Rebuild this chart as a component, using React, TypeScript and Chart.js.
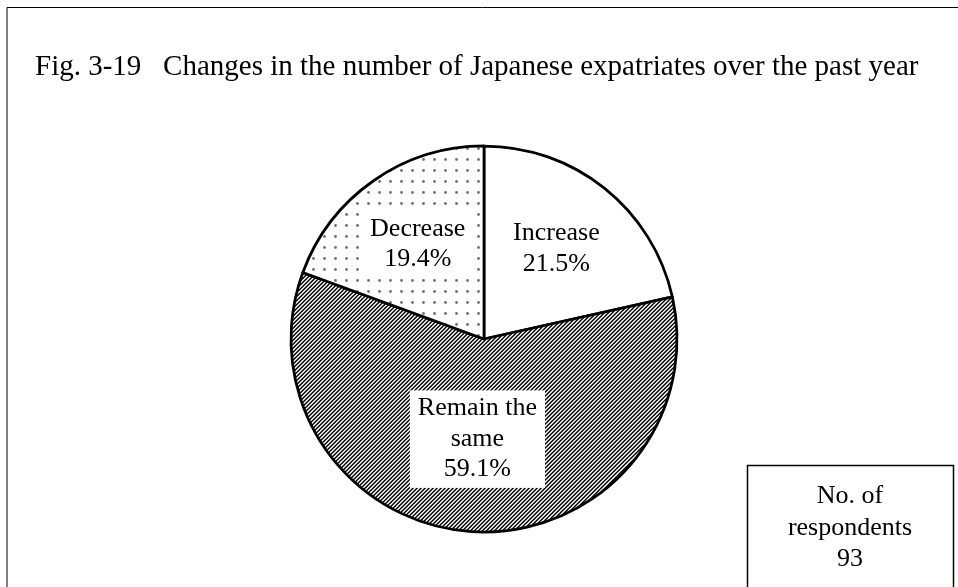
import React, { useEffect, useRef } from "react";
import { Chart, registerables } from "chart.js";

Chart.register(...registerables);

const TITLE = "Fig. 3-19   Changes in the number of Japanese expatriates over the past year";
const categories = ["Increase", "Remain the same", "Decrease"];
const categoryLines = [["Increase"], ["Remain the", "same"], ["Decrease"]];
const values = [21.5, 59.1, 19.4];
const respondents = 93;
const boxLines = ["No. of", "respondents", String(respondents)];

const FONT = '"Liberation Serif", "Times New Roman", serif';
const labelRadius = [0.6, 0.52, 0.6];

function makeHatch(): CanvasPattern | string {
  const c = document.createElement("canvas");
  c.width = 4;
  c.height = 4;
  const g = c.getContext("2d");
  if (!g) return "#888";
  g.fillStyle = "#fff";
  g.fillRect(0, 0, 4, 4);
  for (let x = 0; x < 4; x++) {
    for (let y = 0; y < 4; y++) {
      const k = (x + y) % 4;
      let col = "";
      if (k === 0) col = "#000";
      else if (k === 1) col = "#4a4a4a";
      else if (k === 3) col = "#b0b0b0";
      if (col) {
        g.fillStyle = col;
        g.fillRect(x, y, 1, 1);
      }
    }
  }
  return g.createPattern(c, "repeat") || "#888";
}

function makeDots(): CanvasPattern | string {
  const c = document.createElement("canvas");
  c.width = 11;
  c.height = 11;
  const g = c.getContext("2d");
  if (!g) return "#eee";
  g.fillStyle = "#fff";
  g.fillRect(0, 0, 11, 11);
  g.fillStyle = "#707070";
  g.beginPath();
  g.arc(5.5, 5.5, 1.4, 0, Math.PI * 2);
  g.fill();
  return g.createPattern(c, "repeat") || "#eee";
}

export default function App() {
  const ref = useRef<HTMLCanvasElement>(null);

  useEffect(() => {
    const canvas = ref.current;
    if (!canvas) return;
    const hatch = makeHatch();
    const dots = makeDots();
    const fills = ["#ffffff", hatch, dots];
    const labelBg = [false, true, true];

    const framePlugin = {
      id: "framePlugin",
      beforeDraw(chart: any) {
        const ctx = chart.ctx as CanvasRenderingContext2D;
        ctx.save();
        ctx.fillStyle = "#fff";
        ctx.fillRect(0, 0, chart.width, chart.height);
        ctx.strokeStyle = "#000";
        ctx.lineWidth = 1;
        ctx.beginPath();
        ctx.moveTo(7, chart.height);
        ctx.lineTo(7, 7.5);
        ctx.lineTo(chart.width, 7.5);
        ctx.stroke();
        ctx.fillStyle = "#000";
        ctx.font = `29px ${FONT}`;
        ctx.textAlign = "left";
        ctx.textBaseline = "alphabetic";
        ctx.fillText(TITLE, 35, 75);
        ctx.restore();
      },
      afterDraw(chart: any) {
        const ctx = chart.ctx as CanvasRenderingContext2D;
        ctx.save();
        ctx.fillStyle = "#fff";
        ctx.fillRect(747, 465, 206, 140);
        ctx.strokeStyle = "#000";
        ctx.lineWidth = 1.5;
        ctx.strokeRect(747.5, 465.5, 206, 140);
        ctx.fillStyle = "#000";
        ctx.font = `26px ${FONT}`;
        ctx.textAlign = "center";
        ctx.textBaseline = "alphabetic";
        boxLines.forEach((t, i) => ctx.fillText(t, 850, 503 + i * 31.5));
        ctx.restore();
      },
    };

    const labelPlugin = {
      id: "labelPlugin",
      afterDatasetsDraw(chart: any) {
        const ctx = chart.ctx as CanvasRenderingContext2D;
        const meta = chart.getDatasetMeta(0);
        ctx.save();
        ctx.font = `26px ${FONT}`;
        ctx.textAlign = "center";
        ctx.textBaseline = "middle";
        const lh = 30.5;
        meta.data.forEach((arc: any, i: number) => {
          const p = arc.getProps(["x", "y", "startAngle", "endAngle", "outerRadius"], true);
          const mid = (p.startAngle + p.endAngle) / 2;
          const r = p.outerRadius * labelRadius[i];
          const cx = p.x + Math.cos(mid) * r;
          const cy = p.y + Math.sin(mid) * r;
          const lines = [...categoryLines[i], values[i].toFixed(1) + "%"];
          const w = Math.max(...lines.map((l) => ctx.measureText(l).width));
          const h = lines.length * lh;
          if (labelBg[i]) {
            ctx.fillStyle = "#fff";
            ctx.fillRect(cx - w / 2 - 8, cy - h / 2 - 3, w + 16, h + 6);
          }
          ctx.fillStyle = "#000";
          lines.forEach((l, j) => {
            ctx.fillText(l, cx, cy - h / 2 + lh / 2 + j * lh);
          });
        });
        ctx.restore();
      },
    };

    const chart = new Chart(canvas, {
      type: "pie",
      data: {
        labels: categories,
        datasets: [
          {
            data: values,
            backgroundColor: fills as any,
            borderColor: "#000",
            borderWidth: 2.75,
          },
        ],
      },
      options: {
        responsive: false,
        animation: false,
        radius: 193,
        layout: { padding: { left: 284, right: 274, top: 139, bottom: 48 } },
        plugins: {
          legend: { display: false },
          tooltip: { enabled: false },
          title: { display: false },
        },
      } as any,
      plugins: [framePlugin, labelPlugin],
    });
    return () => chart.destroy();
  }, []);

  return (
    <div style={{ position: "fixed", left: 0, top: 0, width: 958, height: 587, background: "#fff" }}>
      <canvas ref={ref} width={958} height={587} style={{ display: "block" }} />
    </div>
  );
}
